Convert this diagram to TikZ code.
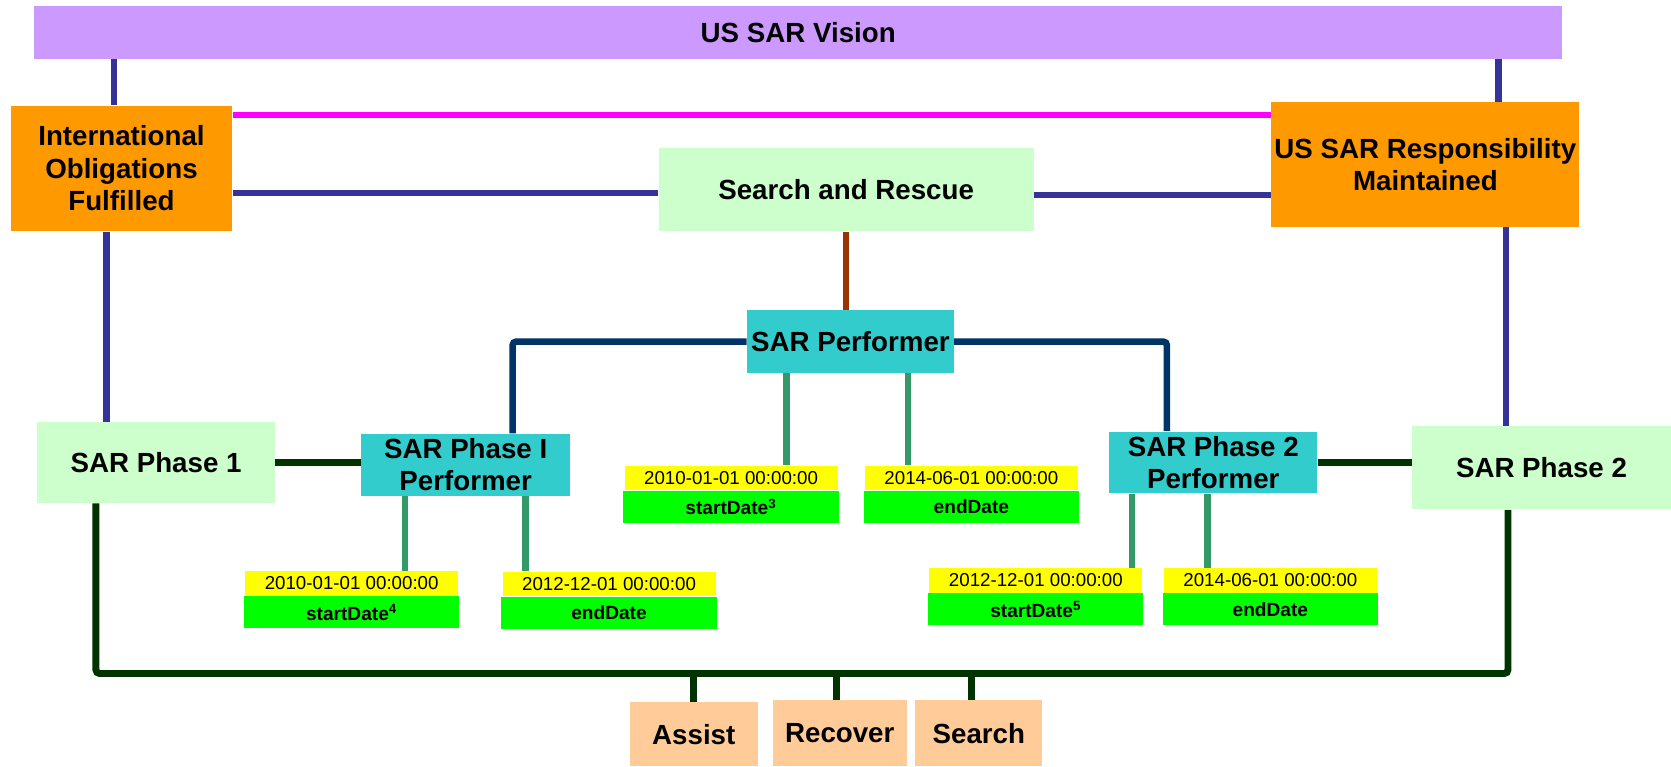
\documentclass[tikz,border=0pt]{standalone}
\usepackage{fontspec}
\setmainfont{Liberation Sans}
\definecolor{visionpurple}{HTML}{CC99FF}
\definecolor{goalorange}{HTML}{FF9900}
\definecolor{palegreen}{HTML}{CCFFCC}
\definecolor{performercyan}{HTML}{33CCCC}
\definecolor{peach}{HTML}{FFCC99}
\definecolor{dateyellow}{HTML}{FFFF00}
\definecolor{tagsgreen}{HTML}{00FF00}
\definecolor{linkblue}{HTML}{333399}
\definecolor{linkmagenta}{HTML}{FF00FF}
\definecolor{linkbrown}{HTML}{993300}
\definecolor{linknavy}{HTML}{003366}
\definecolor{linkdark}{HTML}{003300}
\definecolor{linksea}{HTML}{339966}
\usetikzlibrary{positioning}
\newcommand{\lbl}{\fontsize{14.8}{17.3}\selectfont\bfseries}

\begin{document}
\begin{tikzpicture}[x=0.02cm, y=-0.02cm,
    box/.style={rectangle, inner sep=0pt, align=center, font=\lbl},
    datebox/.style={rectangle, inner sep=0pt, fill=dateyellow, minimum width=4cm, minimum height=0.46cm, font=\fontsize{10}{12}\selectfont},
    tagbox/.style={rectangle, inner sep=0pt, fill=tagsgreen, minimum width=4.04cm, minimum height=0.6cm, font=\fontsize{10.2}{12}\selectfont\bfseries},
    blueline/.style={linkblue, line width=3.5pt},
    darkline/.style={linkdark, line width=3.7pt, rounded corners=2pt},
    sealine/.style={linksea, line width=3.5pt}]
      \useasboundingbox (0,0) rectangle (1568,719);
      \node[box, fill=visionpurple, minimum width=28.68cm, minimum height=0.98cm] (vision) at (749,30.5) {US SAR Vision};
      \node[box, fill=goalorange, minimum width=4.16cm, minimum height=2.36cm] (intl) at (114,158) {International\\Obligations\\Fulfilled};
      \node[box, fill=goalorange, minimum width=5.78cm, minimum height=2.34cm] (usresp) at (1337.5,154.5) {US SAR Responsibility\\Maintained};
      \node[box, fill=palegreen, minimum width=7.04cm, minimum height=1.56cm] (sar) at (794,178) {Search and Rescue};
      \node[box, fill=performercyan, minimum width=3.88cm, minimum height=1.18cm] (perf) at (798,320.5) {SAR Performer};
      \node[box, fill=palegreen, minimum width=4.46cm, minimum height=1.52cm] (ph1) at (146.5,434) {SAR Phase 1};
      \node[box, fill=palegreen, minimum width=4.86cm, minimum height=1.56cm] (ph2) at (1446.5,439) {SAR Phase 2};
      \node[box, fill=performercyan, minimum width=3.92cm, minimum height=1.16cm] (perf1) at (437,436) {SAR Phase I\\Performer};
      \node[box, fill=performercyan, minimum width=3.9cm, minimum height=1.16cm] (perf2) at (1138.5,434) {SAR Phase 2\\Performer};
      % dates of the performers
      \node[datebox] (pstart) at (686,448.5) {2010-01-01 00:00:00};
      \node[tagbox, below=0pt of pstart] (pstarttag) {startDate\textsuperscript{3}};
      \node[datebox] (pend) at (911.5,448.5) {2014-06-01 00:00:00};
      \node[tagbox, below=0pt of pend] (pendtag) {endDate};
      \node[datebox] (p1start) at (330,547.5) {2010-01-01 00:00:00};
      \node[tagbox, below=0pt of p1start] (p1starttag) {startDate\textsuperscript{4}};
      \node[datebox] (p1end) at (571.5,548) {2012-12-01 00:00:00};
      \node[tagbox, below=0pt of p1end] (p1endtag) {endDate};
      \node[datebox] (p2start) at (972,544.5) {2012-12-01 00:00:00};
      \node[tagbox, below=0pt of p2start] (p2starttag) {startDate\textsuperscript{5}};
      \node[datebox] (p2end) at (1192,544.5) {2014-06-01 00:00:00};
      \node[tagbox, below=0pt of p2end] (p2endtag) {endDate};
      % activities
      \node[box, fill=peach, minimum width=2.4cm, minimum height=1.2cm] (assist) at (651,689) {Assist};
      \node[box, fill=peach, minimum width=2.52cm, minimum height=1.24cm] (recover) at (788,688) {Recover};
      \node[box, fill=peach, minimum width=2.38cm, minimum height=1.24cm] (search) at (918.5,688) {Search};
      \coordinate (bus) at (651,632);
      % links
      \draw[blueline] ([xshift=-0.14cm]intl.north) -- ([xshift=-0.14cm]intl.north |- vision.south);
      \draw[blueline] ([xshift=1.37cm]usresp.north) -- ([xshift=1.37cm]usresp.north |- vision.south);
      \draw[blueline] ([xshift=-0.28cm]intl.south) -- ([xshift=-0.28cm]intl.south |- ph1.north);
      \draw[blueline] ([xshift=1.51cm]usresp.south) -- ([xshift=1.51cm]usresp.south |- ph2.north);
      \draw[linkmagenta, line width=3.5pt] ([yshift=1cm]intl.east) -- ([yshift=1cm]intl.east -| usresp.west);
      \draw[blueline] ([yshift=-0.06cm]sar.west) -- ([yshift=-0.06cm]sar.west -| intl.east);
      \draw[blueline] ([yshift=-0.1cm]sar.east) -- ([yshift=-0.1cm]sar.east -| usresp.west);
      \draw[linkbrown, line width=3.5pt] (sar.south) -- (sar.south |- perf.north);
      \draw[linknavy, line width=3.5pt, rounded corners=2pt] (perf.west) -| ([xshift=0.88cm]perf1.north);
      \draw[linknavy, line width=3.5pt, rounded corners=2pt] (perf.east) -| ([xshift=-0.87cm]perf2.north);
      \draw[darkline] (ph1.east) -- (ph1.east -| perf1.west);
      \draw[darkline] (perf2.east) -- (perf2.east -| ph2.west);
      \draw[sealine] ([xshift=-1.2cm]perf.south) -- ([xshift=-1.2cm]perf.south |- pstart.north);
      \draw[sealine] ([xshift=1.08cm]perf.south) -- ([xshift=1.08cm]perf.south |- pend.north);
      \draw[sealine] ([xshift=-1.14cm]perf1.south) -- ([xshift=-1.14cm]perf1.south |- p1start.north);
      \draw[sealine] ([xshift=1.12cm]perf1.south) -- ([xshift=1.12cm]perf1.south |- p1end.north);
      \draw[sealine] ([xshift=-1.53cm]perf2.south) -- ([xshift=-1.53cm]perf2.south |- p2start.north);
      \draw[sealine] ([xshift=-0.11cm]perf2.south) -- ([xshift=-0.11cm]perf2.south |- p2end.north);
      \draw[darkline] ([xshift=-1.13cm]ph1.south) |- (bus) -| ([xshift=-0.63cm]ph2.south);
      \draw[darkline] (assist.north) -- (assist.north |- bus);
      \draw[darkline] ([xshift=-0.06cm]recover.north) -- ([xshift=-0.06cm]recover.north |- bus);
      \draw[darkline] ([xshift=-0.13cm]search.north) -- ([xshift=-0.13cm]search.north |- bus);
    \end{tikzpicture}
\end{document}
